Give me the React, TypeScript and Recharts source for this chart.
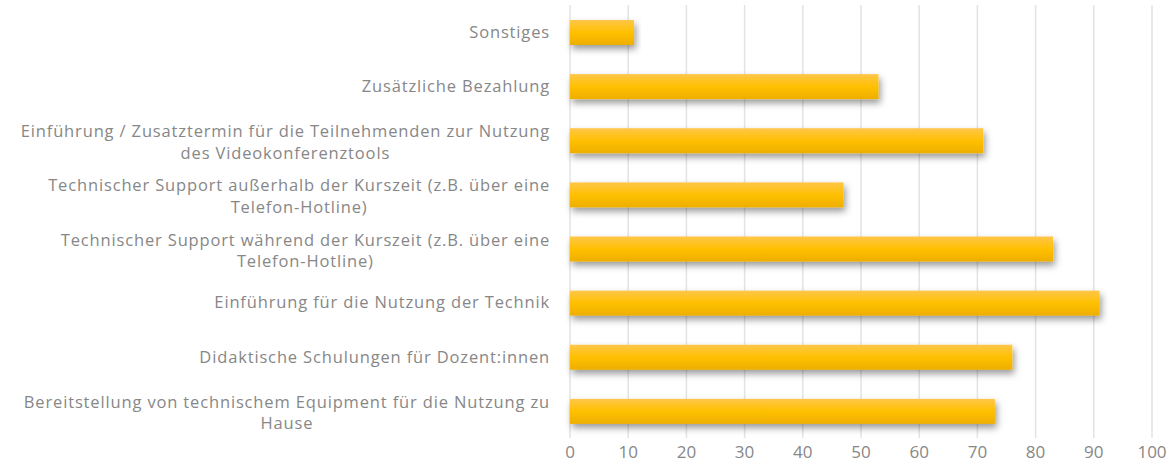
import { useLayoutEffect, useRef, useState } from "react"
import { BarChart, Bar, XAxis, YAxis, CartesianGrid } from "recharts"

const categories = [
  "Sonstiges",
  "Zusätzliche Bezahlung",
  "Einführung / Zusatztermin für die Teilnehmenden zur Nutzung\ndes Videokonferenztools",
  "Technischer Support außerhalb der Kurszeit (z.B. über eine\nTelefon-Hotline)",
  "Technischer Support während der Kurszeit (z.B. über eine\nTelefon-Hotline)",
  "Einführung für die Nutzung der Technik",
  "Didaktische Schulungen für Dozent:innen",
  "Bereitstellung von technischem Equipment für die Nutzung zu\nHause",
]
const values = [11, 53, 71, 47, 83, 91, 76, 73]
const xTicks = [0, 10, 20, 30, 40, 50, 60, 70, 80, 90, 100]

const data = categories.map((name, i) => ({ name, value: values[i] }))

const FONT = "'Open Sans', sans-serif"
const TEXT = "#878787"
const LABEL_SIZE = 16.5
const LINE_H = 21.5

function CategoryTick(props: any) {
  const { x, y, payload } = props
  const ref = useRef<SVGTextElement>(null)
  const [w, setW] = useState(0)
  const lines = String(payload.value).split("\n")

  // center the lines on the widest one; right edge ~20px left of the plot
  useLayoutEffect(() => {
    const el = ref.current
    if (!el) return
    const spans = Array.from(el.querySelectorAll("tspan")) as SVGTSpanElement[]
    const m = Math.max(...spans.map((s) => s.getComputedTextLength()))
    if (Math.abs(m - w) > 0.5) setW(m)
  })

  const cx = x - 12 - w / 2
  const top = y - ((lines.length - 1) * LINE_H) / 2 + (lines.length > 1 ? 2 : 0)
  return (
    <text
      ref={ref}
      x={cx}
      y={top}
      textAnchor="middle"
      fill={TEXT}
      fontSize={LABEL_SIZE}
      fontFamily={FONT}
      letterSpacing={0.85}
    >
      {lines.map((line, i) => (
        <tspan key={i} x={cx} dy={i === 0 ? "0.35em" : LINE_H}>
          {line}
        </tspan>
      ))}
    </text>
  )
}

function ShadowBar(props: any) {
  const { x, y, width, height } = props
  return <rect x={x} y={y} width={width} height={height} fill="url(#barFill)" filter="url(#barShadow)" />
}

export default function App() {
  return (
    <div style={{ position: "absolute", left: 0, top: 0, background: "#fff" }}>
      <BarChart
        width={1173}
        height={467}
        data={data}
        layout="vertical"
        margin={{ top: 5, right: 21, left: 0, bottom: 0 }}
        barSize={25}
      >
        <defs>
          <linearGradient id="barFill" x1="0" y1="0" x2="0" y2="1">
            <stop offset="0%" stopColor="#ffc64a" />
            <stop offset="50%" stopColor="#ffc000" />
            <stop offset="100%" stopColor="#eeae00" />
          </linearGradient>
          <filter id="barShadow" x="-10%" y="-30%" width="120%" height="190%">
            <feDropShadow dx="2" dy="4" stdDeviation="3.5" floodColor="#000" floodOpacity="0.4" />
          </filter>
        </defs>
        <CartesianGrid horizontal={false} stroke="#e3e3e3" strokeWidth={1.5} />
        <XAxis
          type="number"
          domain={[0, 100]}
          ticks={xTicks}
          axisLine={false}
          tickLine={false}
          height={29}
          tick={{ fill: TEXT, fontSize: 17, fontFamily: FONT }}
        />
        <YAxis
          type="category"
          dataKey="name"
          width={570}
          axisLine={false}
          tickLine={false}
          interval={0}
          tick={<CategoryTick />}
        />
        <Bar dataKey="value" isAnimationActive={false} shape={<ShadowBar />} />
      </BarChart>
    </div>
  )
}
